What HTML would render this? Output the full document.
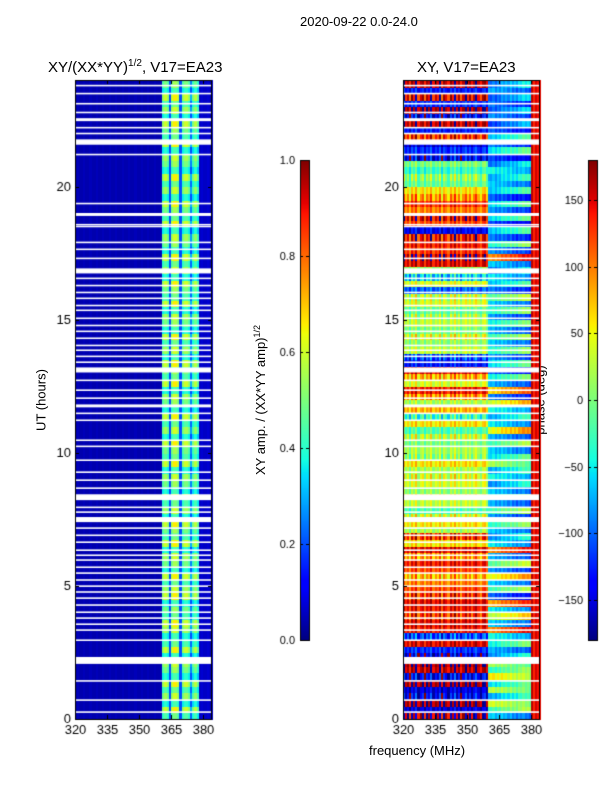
<!DOCTYPE html>
<html><head><meta charset="utf-8">
<style>
body{margin:0;background:#fff;}
#root{position:relative;width:600px;height:800px;background:#fff;font-family:"Liberation Sans","DejaVu Sans",sans-serif;color:#000;overflow:hidden;}
.t{position:absolute;white-space:nowrap;font-size:13px;}
canvas{position:absolute;}
</style></head>
<body>
<div id="root">
<div class="t" style="left:300px;top:14px;">2020-09-22 0.0-24.0</div>
<div class="t" style="left:48px;top:58px;font-size:15px;">XY/(XX*YY)<sup style="font-size:10px;">1/2</sup>, V17=EA23</div>
<div class="t" style="left:417px;top:59px;font-size:15px;">XY, V17=EA23</div>
<div class="t" style="left:369px;top:743px;">frequency (MHz)</div>
<div class="t" style="left:41px;top:400px;transform:translate(-50%,-50%) rotate(-90deg);">UT (hours)</div>
<div class="t" style="left:260px;top:400px;transform:translate(-50%,-50%) rotate(-90deg);">XY amp. / (XX*YY amp)<sup style="font-size:9px;">1/2</sup></div>
<div class="t" style="left:540px;top:400px;transform:translate(-50%,-50%) rotate(-90deg);">phase (deg)</div>
<canvas id="c" width="600" height="800" style="left:0;top:0;"></canvas>
</div>
<script>
const freqRange=[320,384];
const timeRange=[0,24];
const xTicks=[320,335,350,365,380];
const yTicks=[0,5,10,15,20];
const ampTicks=[0.0,0.2,0.4,0.6,0.8,1.0];
const phaseTicks=[-150,-100,-50,0,50,100,150];
const colAmp=[0.04,0.05,0.04,0.04,0.05,0.04,0.04,0.05,0.04,0.04,0.05,0.04,0.04,0.05,0.04,0.04,0.05,0.04,0.04,0.05,0.04,0.04,0.05,0.04,0.04,0.05,0.04,0.04,0.05,0.04,0.04,0.05,0.04,0.04,0.05,0.04,0.04,0.05,0.04,0.04,0.05,
0.45,0.5,0.45,0.2,0.5,0.55,0.55,0.5,0.2,0.45,0.5,0.5,0.45,0.25,0.42,0.48,0.4,0.06,0.07,0.06,0.06,0.07,0.06];
const rowGain=[0.9,1.2,0.8,1.1,0.9,1.2,0.8,1.0,1.1,0.8,1.2,0.9,0.8,1.1,1.2,0.9,1.0,0.8,1.2,1.1,0.9,1.2,0.8,1.0,
1.1,0.8,1.2,0.9,1.0,1.2,0.8,1.1,0.9,1.2,0.8,1.0,1.1,0.8,1.2,0.9,1.0,1.2,0.8,1.1,0.9,1.2,0.8,1.0,
1.1,0.8,1.2,0.9,1.0,1.2,0.8,1.1,0.9,1.2,0.8,1.0,1.1,0.8,1.2,0.9,1.0,1.2,0.8,1.1,0.9,1.2,0.8,1.0,
1.1,0.8,1.2,0.9,1.0,1.2,0.8,1.1,0.9,1.2,0.8,1.0,1.1,0.8,1.2,0.9,1.0,1.2,0.8,1.1,0.9,1.2,0.8,1.0];
const rowPhaseA=[170,-150,170,-140,-150,170,-140,160,170,-150,-120,150,-110,140,150,130,140,150,130,120,100,80,120,140,
90,150,60,130,20,60,40,-20,30,60,10,40,40,20,60,10,20,0,30,-20,60,-30,80,20,90,140,40,80,150,-130,-110,30,
10,40,0,30,20,-10,40,30,-100,40,-60,10,150,160,130,140,140,-140,120,150,100,130,90,60,-10,10,-30,0,
-140,-120,-150,130,-130,160,-140,170,-120,150,-130,160];
const rowPhaseB=[-60,-30,40,-80,30,-60,60,-40,20,-90,-70,-50,-40,90,-60,20,-50,80,-100,-30,-60,40,-80,-20,
-70,90,-50,-90,-60,-40,-80,-30,-70,-50,-60,-90,-40,-80,20,-60,-60,-30,-70,40,-50,-80,-40,30,-90,60,-70,-50,
-100,-60,-80,-40,-60,-30,-70,-50,-80,-40,-60,-20,-90,-70,-50,-100,-60,90,-80,-40,-90,-70,-110,-60,-80,-60,-100,-70,
-60,-80,-40,-100,-110,-60,-90,-70,-100,-120,-80,-110,-90,-110,-70,-100];
const colTex=[30,-20,10,-40,25,-10,40,-30,5,20,-35,15,-5,35,-25,10,-15,30,-40,20,0,-30,25,-10,40,-20,15,-35,5,30,-15,20,-25,10,35,-5,-30,15,25,-20,10,
-10,20,-30,15,-20,35,-5,25,-15,30,-25,10,-35,20,-5,30,-10,15,-20,25,-30,10,-15,5];
const flagHours=[23.79,23.49,23.11,22.78,22.51,22.21,21.99,21.67,21.2,19.36,18.95,18.57,18.5,17.9,17.64,17.3,16.83,16.55,16.28,16.02,15.8,15.53,15.35,15.05,14.78,14.56,14.3,14.03,13.85,13.62,13.4,13.11,12.72,12.35,12.05,11.76,11.48,11.22,10.47,10.24,9.72,9.27,8.97,8.67,8.33,7.95,7.77,7.49,7.17,6.9,6.64,6.34,6.15,5.97,5.7,5.48,5.22,4.99,4.77,4.54,4.28,4.01,3.79,3.56,3.34,2.96,2.2,1.43,0.71,0.26];
const flagDur=[0.06,0.06,0.06,0.06,0.11,0.06,0.06,0.2,0.06,0.06,0.11,0.05,0.05,0.06,0.06,0.06,0.19,0.06,0.06,0.06,0.06,0.06,0.06,0.06,0.06,0.06,0.06,0.06,0.06,0.06,0.06,0.19,0.06,0.06,0.06,0.11,0.06,0.06,0.06,0.06,0.06,0.06,0.06,0.06,0.22,0.06,0.06,0.19,0.06,0.06,0.06,0.06,0.06,0.06,0.06,0.06,0.06,0.06,0.06,0.06,0.06,0.06,0.06,0.06,0.06,0.06,0.26,0.06,0.06,0.06];

const P1={x0:75,x1:212,y0:80,y1:719};
const P2={x0:403,x1:540,y0:80,y1:719};
const CB1={x0:300,x1:309,y0:160,y1:640};
const CB2={x0:588,x1:597,y0:160,y1:640};
function xs(P,f){return P.x0+(f-freqRange[0])/(freqRange[1]-freqRange[0])*(P.x1-P.x0);}
function ys(P,h){return P.y1-(h-timeRange[0])/(timeRange[1]-timeRange[0])*(P.y1-P.y0);}
function interp(pts,v){for(let i=1;i<pts.length;i++){if(v<=pts[i][0]){const a=pts[i-1],b=pts[i];return a[1]+(b[1]-a[1])*(v-a[0])/(b[0]-a[0]);}}return pts[pts.length-1][1];}
const JR=[[0,0],[0.35,0],[0.66,1],[0.89,1],[1,0.5]];
const JG=[[0,0],[0.125,0],[0.375,1],[0.64,1],[0.91,0],[1,0]];
const JB=[[0,0.5],[0.11,1],[0.34,1],[0.65,0],[1,0]];
function jet(v){v=Math.max(0,Math.min(1,v));
 return `rgb(${Math.round(interp(JR,v)*255)},${Math.round(interp(JG,v)*255)},${Math.round(interp(JB,v)*255)})`;}
function wrap(p){while(p>180)p-=360;while(p<-180)p+=360;return p;}
const ctx=document.getElementById('c').getContext('2d');
const nR=rowGain.length,nC=colAmp.length;
const dh=(timeRange[1]-timeRange[0])/nR,df=(freqRange[1]-freqRange[0])/nC;
for(let r=0;r<nR;r++){
 const ya=ys(P1,r*dh),yb=ys(P1,(r+1)*dh);
 for(let c=0;c<nC;c++){
  const f0=freqRange[0]+c*df,f1=f0+df;
  let a=colAmp[c]*(colAmp[c]>0.2?rowGain[r]:1);
  ctx.fillStyle=jet(a);
  ctx.fillRect(Math.floor(xs(P1,f0)),Math.floor(yb),Math.ceil(xs(P1,f1)-xs(P1,f0))+1,Math.ceil(ya-yb)+1);
  const f=f0;
  let p;
  if(f<360)p=rowPhaseA[r]+colTex[c]*(r%3===0?1.2:0.7);
  else if(f<380)p=rowPhaseB[r]+(f-360)*(r%2?3:-2)+colTex[c]*0.4;
  else p=150+colTex[c]*0.5;
  ctx.fillStyle=jet((wrap(p)+180)/360);
  ctx.fillRect(Math.floor(xs(P2,f0)),Math.floor(yb),Math.ceil(xs(P2,f1)-xs(P2,f0))+1,Math.ceil(ya-yb)+1);
 }
}
ctx.fillStyle='#fff';
for(let i=0;i<flagHours.length;i++){
 [P1,P2].forEach(P=>{
  const yt=ys(P,flagHours[i]+flagDur[i]/2),yb2=ys(P,flagHours[i]-flagDur[i]/2);
  ctx.fillRect(P.x0,yt,P.x1-P.x0,Math.max(1.5,yb2-yt));
 });
}
ctx.strokeStyle='#000';ctx.lineWidth=1;ctx.fillStyle='#000';ctx.font='13px "Liberation Sans", sans-serif';
[P1,P2].forEach(P=>{
 ctx.strokeRect(P.x0+0.5,P.y0+0.5,P.x1-P.x0-1,P.y1-P.y0);
 ctx.textAlign='center';ctx.textBaseline='top';
 xTicks.forEach(t=>{const x=Math.round(xs(P,t))+0.5;ctx.beginPath();ctx.moveTo(x,P.y1);ctx.lineTo(x,P.y1-4);ctx.moveTo(x,P.y0);ctx.lineTo(x,P.y0+4);ctx.stroke();ctx.fillText(String(t),x,P.y1+5);});
 ctx.textAlign='right';ctx.textBaseline='middle';
 yTicks.forEach(t=>{const y=Math.round(ys(P,t))+0.5;ctx.beginPath();ctx.moveTo(P.x0,y);ctx.lineTo(P.x0+4,y);ctx.moveTo(P.x1,y);ctx.lineTo(P.x1-4,y);ctx.stroke();ctx.fillText(String(t),P.x0-4,y);});
});
function cbar(CB,ticks,lo,hi,fmt){
 for(let y=CB.y0;y<CB.y1;y++){const v=1-(y-CB.y0)/(CB.y1-CB.y0);ctx.fillStyle=jet(v);ctx.fillRect(CB.x0,y,CB.x1-CB.x0,1);}
 ctx.strokeStyle='#000';ctx.strokeRect(CB.x0+0.5,CB.y0+0.5,CB.x1-CB.x0,CB.y1-CB.y0);
 ctx.fillStyle='#000';ctx.textAlign='right';ctx.textBaseline='middle';ctx.font='11px "Liberation Sans", sans-serif';
 ticks.forEach(t=>{const y=Math.round(CB.y1-(t-lo)/(hi-lo)*(CB.y1-CB.y0))+0.5;ctx.beginPath();ctx.moveTo(CB.x0,y);ctx.lineTo(CB.x0+3,y);ctx.moveTo(CB.x1,y);ctx.lineTo(CB.x1-3,y);ctx.stroke();ctx.fillText(fmt(t),CB.x0-5,y);});
}
cbar(CB1,ampTicks,0,1,t=>t.toFixed(1));
cbar(CB2,phaseTicks,-180,180,t=>t<0?'\u2212'+Math.abs(t):String(t));
</script>
</body></html>
